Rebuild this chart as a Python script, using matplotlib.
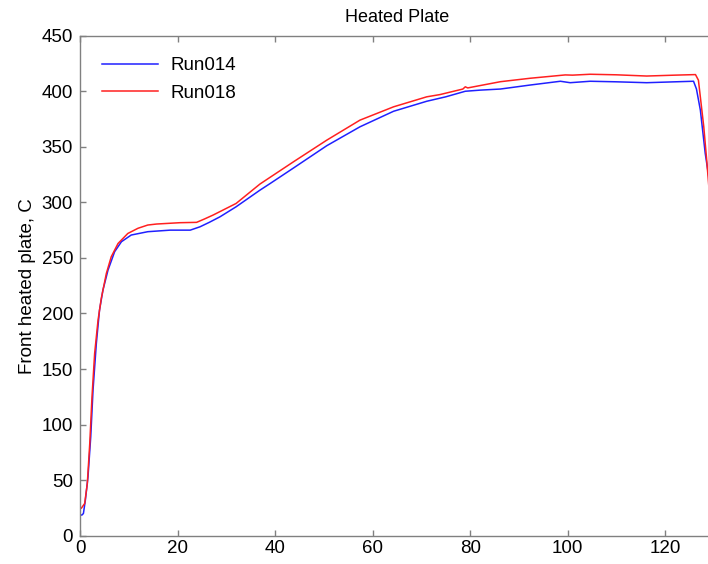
import matplotlib
matplotlib.use('Agg')
from matplotlib import pyplot as plt

plt.rcParams['font.family'] = ['Liberation Sans', 'DejaVu Sans']

# Run014 (blue)
t014 = [0, 0.4, 0.7, 1.1, 1.64, 2.2, 2.67, 3.35, 4.0, 4.7, 5.74, 7.1, 8.5,
        10.5, 13.9, 18.5, 22.6, 24.6, 26.5, 28.7, 32, 36.9, 39, 43.8, 50.6,
        57.4, 64.3, 71.1, 75, 79, 82, 86.2, 92.3, 98.5, 100.5, 104.6, 110,
        116.2, 122, 125.8, 126.4, 127.2, 128.2, 129.2]
run014 = [18.6, 18.6, 20, 32, 53, 89, 131, 173, 203, 221, 239, 255.6, 264.6,
          270.6, 273.6, 275, 275, 278, 282, 287, 296, 311, 317, 331, 351,
          368, 382, 391, 395, 400, 401, 402, 405.6, 409, 407.7, 409, 408.5,
          407.7, 408.5, 409, 402, 383, 344, 315]

# Run018 (red)
t018 = [0, 0.27, 0.96, 1.5, 2.0, 2.46, 3.0, 3.7, 4.37, 5.4, 6.4, 7.8, 9.8,
        11.9, 13.9, 15.7, 20.5, 23.9, 25.5, 27.3, 32, 36.9, 43.8, 50.6, 57.4,
        64.3, 71.1, 73.8, 78.5, 79, 79.5, 86.2, 92.3, 99.5, 101, 104.6, 110,
        116.2, 122, 126.2, 126.8, 127.9, 128.5, 129.2]
run018 = [24.5, 24.7, 29, 47, 83, 125, 164, 194, 213.7, 236, 251, 263, 272,
          276.7, 279.6, 280.5, 281.7, 282, 285, 288.6, 299, 316.5, 336.6,
          356, 374, 386, 395, 397, 402, 404, 403, 408.6, 411.7, 414.7, 414.5,
          415.3, 414.8, 413.7, 414.5, 415, 410, 368, 338, 300]

fig = plt.figure(figsize=(7.08, 5.64), dpi=100)
ax = fig.add_axes([0.113, 0.0502, 0.8955, 0.8865])

ax.plot(t014, run014, color='#2020ff', lw=1.1, label='Run014')
ax.plot(t018, run018, color='#ff2020', lw=1.1, label='Run018')

ax.set_xlim(0, 130)
ax.set_ylim(0, 450)
ax.set_xticks(range(0, 121, 20))
ax.set_yticks(range(0, 451, 50))

for s in ax.spines.values():
    s.set_color('#808080')
    s.set_linewidth(1.0)
ax.tick_params(direction='in', length=4.5, width=1, color='#808080',
               labelsize=13.5, labelcolor='black', top=True, right=True)
ax.tick_params(axis='y', pad=5)
ax.tick_params(axis='x', pad=3)

ax.set_title('Heated Plate', fontsize=13, pad=10)
ax.set_ylabel('Front heated plate, C', fontsize=13.5, labelpad=4)

ax.legend(loc='upper left', frameon=False, fontsize=13.5, handlelength=3.0,
          handletextpad=0.7, borderaxespad=0.75, labelspacing=0.55)

fig.savefig('out.png', dpi=100)
